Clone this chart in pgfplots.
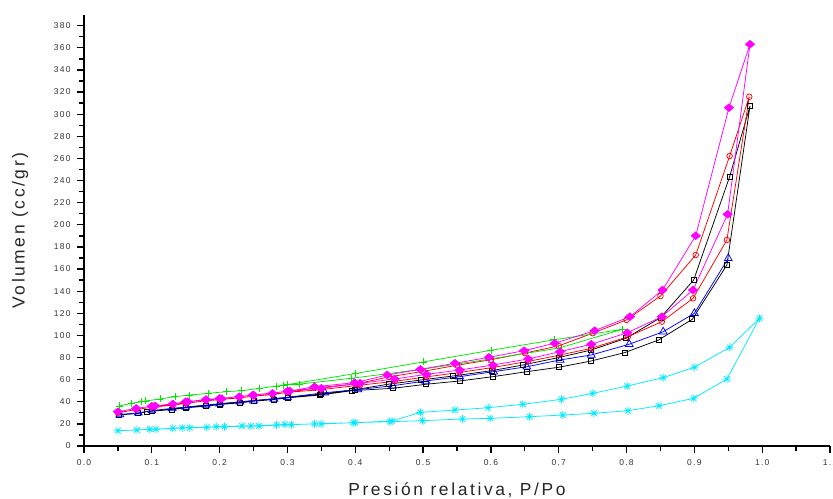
\documentclass[border=0pt]{standalone}
\usepackage{pgfplots}
\pgfplotsset{compat=1.18}
\usepackage{fontspec}
\setmainfont{Liberation Sans}
\newfontfamily\tickfont[LetterSpace=15]{Liberation Sans}
\newfontfamily\labfont[LetterSpace=15]{Liberation Sans}
\definecolor{cgreen}{RGB}{0,230,0}
\definecolor{ccyan}{RGB}{0,235,255}
\definecolor{cmag}{RGB}{255,0,255}
\pgfdeclareplotmark{ast8}{%
  \pgfpathmoveto{\pgfqpoint{-\pgfplotmarksize}{0pt}}\pgfpathlineto{\pgfqpoint{\pgfplotmarksize}{0pt}}%
  \pgfpathmoveto{\pgfqpoint{0pt}{-\pgfplotmarksize}}\pgfpathlineto{\pgfqpoint{0pt}{\pgfplotmarksize}}%
  \pgfpathmoveto{\pgfqpoint{-.707\pgfplotmarksize}{-.707\pgfplotmarksize}}\pgfpathlineto{\pgfqpoint{.707\pgfplotmarksize}{.707\pgfplotmarksize}}%
  \pgfpathmoveto{\pgfqpoint{-.707\pgfplotmarksize}{.707\pgfplotmarksize}}\pgfpathlineto{\pgfqpoint{.707\pgfplotmarksize}{-.707\pgfplotmarksize}}%
  \pgfusepathqstroke}
\begin{document}
\begin{tikzpicture}
\path[use as bounding box] (-84bp,-53bp) rectangle (749bp,446bp);
\begin{axis}[
  at={(0,0)}, anchor=south west,
  scale only axis, width=746bp, height=431bp,
  xmin=0, xmax=1.1, ymin=0, ymax=389.7,
  axis x line=bottom, axis y line=left,
  axis line style={-, line width=1.6bp, black},
  tick align=outside,
  major tick length=7bp, minor tick length=5bp,
  tick style={line width=1.3bp, black},
  xtick={0,0.1,0.2,0.3,0.4,0.5,0.6,0.7,0.8,0.9,1.0,1.1},
  minor x tick num=1,
  ytick={0,20,40,60,80,100,120,140,160,180,200,220,240,260,280,300,320,340,360,380},
  minor y tick num=1,
  /pgf/number format/assume math mode=true,
  xticklabel style={/pgf/number format/.cd, fixed, fixed zerofill, precision=1, /tikz/.cd, yshift=-3.5bp},
  yticklabel style={xshift=-3bp},
  tick label style={font=\tickfont\fontsize{8.5}{10}\selectfont, text=black!80},
  every axis x label/.style={at={([yshift=-44bp]axis description cs:0.5,0)}, anchor=center},
  every axis y label/.style={at={([xshift=-64bp]axis description cs:0,0.5)}, anchor=center, rotate=90},
  label style={font=\labfont\fontsize{17.5}{20}\selectfont, text=black!85},
  xlabel={Presión relativa, P/Po},
  ylabel={Volumen (cc/gr)},
  every axis plot/.append style={line width=0.75bp, mark options={solid, line width=0.75bp}},
]
% cyan
\addplot[color=ccyan, mark=ast8, mark size=4bp] coordinates {
(0.05,13.8) (0.078,14.5) (0.097,15.1) (0.131,16.0) (0.145,16.5) (0.181,16.9) (0.195,17.5) (0.233,18.1) (0.246,18.1) (0.284,19.0) (0.296,19.6) (0.35,19.9) (0.397,21.1) (0.451,22.0) (0.499,22.9) (0.558,24.4) (0.599,25.0) (0.657,26.5) (0.706,28.0) (0.752,29.6) (0.802,31.9) (0.848,36.4) (0.899,43.1) (0.948,60.6) (0.996,115.5)
(0.952,89.2) (0.9,71.2) (0.854,61.8) (0.801,54.2) (0.75,47.6) (0.704,42.2) (0.647,37.7) (0.596,34.6) (0.547,32.5) (0.496,30.4) (0.454,22.6) (0.4,21.1) (0.34,20.0) (0.306,19.3) (0.258,18.1) (0.207,17.5) (0.156,16.5) (0.106,15.1)
};
% black
\addplot[color=black, mark=square, mark size=2.5bp] coordinates {
(0.052,28) (0.08,29.5) (0.092,31) (0.13,33) (0.15,34.5) (0.18,36) (0.2,37.5) (0.23,39) (0.25,40.5) (0.28,42) (0.3,43.5) (0.348,46.1) (0.395,50) (0.456,52.2) (0.504,55.8) (0.554,58.8) (0.603,62.7) (0.653,67.2) (0.7,71.2) (0.748,76.9) (0.797,84.4) (0.847,95.8) (0.897,114.6) (0.948,163.7) (0.982,307.4)
(0.952,243.5) (0.899,150.1) (0.85,116) (0.799,97.4) (0.748,86.8) (0.7,80) (0.647,73.2) (0.601,68.1) (0.544,63.3) (0.497,59.7) (0.45,56) (0.4,51) (0.35,47) (0.3,44) (0.25,41) (0.2,38) (0.15,35) (0.1,31.5)
};
% blue
\addplot[color=blue, mark=triangle, mark size=4.5bp] coordinates {
(0.053,28.5) (0.08,30) (0.1,32) (0.13,34) (0.15,35.2) (0.18,37) (0.2,38.2) (0.23,40) (0.25,41) (0.28,42.6) (0.3,44) (0.355,48.2) (0.404,51) (0.455,54.5) (0.504,58.8) (0.554,62.7) (0.604,67.2) (0.653,71.7) (0.702,77.8) (0.748,82.3) (0.804,92) (0.854,103.3) (0.9,120) (0.95,169.7)
};
% red
\addplot[color=red, mark=o, mark size=2.8bp] coordinates {
(0.05,30) (0.077,33) (0.1,35) (0.131,37) (0.15,38.5) (0.18,41) (0.2,42) (0.229,43.5) (0.25,45) (0.278,46.5) (0.3,48.5) (0.35,51) (0.407,55) (0.458,58.5) (0.505,62.5) (0.554,66.5) (0.603,71) (0.655,76.5) (0.702,82.3) (0.748,88.3) (0.802,98.8) (0.852,112.4) (0.898,133.5) (0.948,186.3) (0.981,315.8)
(0.952,262.2) (0.902,172.7) (0.85,135.6) (0.8,114) (0.75,102) (0.7,90.5) (0.65,84) (0.6,78) (0.55,73) (0.5,67.5) (0.45,62.5) (0.4,56) (0.34,52.5) (0.3,48.5) (0.25,45) (0.2,42) (0.15,39) (0.1,35.5)
};
% green
\addplot[color=cgreen, mark=+, mark size=3.5bp] coordinates {
(0.052,36.2) (0.07,38.6) (0.085,40.0) (0.091,40.7) (0.112,42.5) (0.134,44.6) (0.156,46.1) (0.183,47.6) (0.21,49.1) (0.232,50.0) (0.259,52.1) (0.284,54.2) (0.294,54.9) (0.318,56.0) (0.394,61.2) (0.498,69.3) (0.596,78.4) (0.7,88.5) (0.794,105.5)
(0.693,96.0) (0.6,86.5) (0.5,76.0) (0.4,65.5) (0.3,55.5)
};
% magenta
\addplot[color=cmag, mark=diamond*, mark size=3.8bp, mark options={xscale=1.6}] coordinates {
(0.05,31) (0.077,34) (0.1,36) (0.131,38) (0.15,40) (0.18,42) (0.2,43) (0.229,44.6) (0.25,46.1) (0.278,47.6) (0.3,49.7) (0.35,52.2) (0.407,56.7) (0.458,60.6) (0.505,64.8) (0.554,68.7) (0.603,73.2) (0.655,78.7) (0.702,85.3) (0.748,92) (0.801,102.4) (0.852,116.9) (0.898,141) (0.949,209.5) (0.982,363.2)
(0.951,305.9) (0.902,190.1) (0.853,141) (0.805,116.9) (0.753,104.3) (0.694,92.9) (0.649,86.2) (0.597,80.2) (0.547,74.8) (0.496,69.3) (0.447,64.2) (0.399,57.2) (0.34,53.6) (0.303,49.7) (0.249,46.1) (0.203,42.8) (0.153,40) (0.105,36.2)
};
\end{axis}
\end{tikzpicture}
\end{document}
